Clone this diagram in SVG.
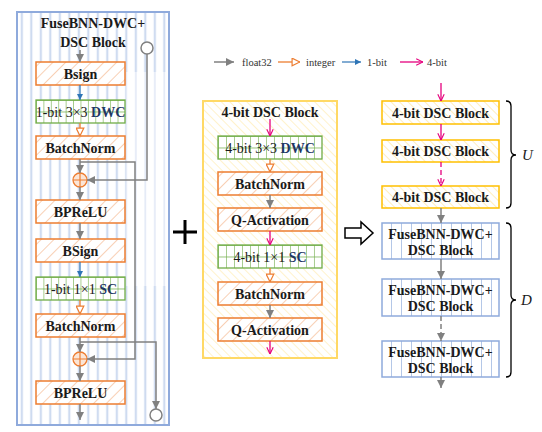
<svg xmlns="http://www.w3.org/2000/svg" width="542" height="432" viewBox="0 0 542 432">
<style>
.t{font-family:"Liberation Serif","Times New Roman",serif;font-size:14px;font-weight:bold;fill:#1a1a1a;text-anchor:middle}
.tr{font-weight:normal}
.db{fill:#1f3864;font-weight:bold}
.lg{font-family:"Liberation Serif","Times New Roman",serif;font-size:10.5px;fill:#333}
.it{font-family:"Liberation Serif","Times New Roman",serif;font-size:15px;font-style:italic;fill:#1a1a1a}
.ob{fill:url(#hOr);stroke:#ed7d31;stroke-width:1.5}
.gb{fill:url(#grid);stroke:#70ad47;stroke-width:1.3}
.gb2{fill:url(#grid2);stroke:#70ad47;stroke-width:1.3}
.yb{fill:url(#hYe);stroke:#ffc000;stroke-width:1.5}
.bb{fill:url(#vs2);stroke:#8faadc;stroke-width:1.5}
.g{stroke:#808080;stroke-width:1.5;fill:none}
.gA{stroke:#808080;stroke-width:1.5;fill:none;marker-end:url(#ag)}
.bA{stroke:#2e75b6;stroke-width:1.2;fill:none;marker-end:url(#ab)}
.oA{stroke:#ed7d31;stroke-width:1.3;fill:none;marker-end:url(#ao)}
.mA{stroke:#e5007d;stroke-width:1.3;fill:none;marker-end:url(#am)}
</style>
<defs>
<marker id="ag" viewBox="0 0 10 10" refX="10" refY="5" markerWidth="8" markerHeight="8" markerUnits="userSpaceOnUse" orient="auto"><path d="M0,0 L10,5 L0,10 z" fill="#808080"/></marker>
<marker id="ab" viewBox="0 0 10 10" refX="10" refY="5" markerWidth="6" markerHeight="6" markerUnits="userSpaceOnUse" orient="auto"><path d="M0,0 L10,5 L0,10 z" fill="#2e75b6"/></marker>
<marker id="ao" viewBox="0 0 10 10" refX="9.5" refY="5" markerWidth="9" markerHeight="9" markerUnits="userSpaceOnUse" orient="auto"><path d="M0.7,0.7 L9.3,5 L0.7,9.3 z" fill="#fff" stroke="#ed7d31" stroke-width="1.3"/></marker>
<marker id="am" viewBox="0 0 10 10" refX="9.5" refY="5" markerWidth="8" markerHeight="8" markerUnits="userSpaceOnUse" orient="auto"><path d="M1,1 L9.5,5 L1,9" fill="none" stroke="#e5007d" stroke-width="1.4"/></marker>
<pattern id="hOr" patternUnits="userSpaceOnUse" width="9" height="9" patternTransform="rotate(45)"><rect width="9" height="9" fill="#fff"/><line x1="0" y1="0" x2="0" y2="9" stroke="#f4b183" stroke-width="1.2"/></pattern>
<pattern id="hYe" patternUnits="userSpaceOnUse" width="6" height="6" patternTransform="rotate(-45)"><rect width="6" height="6" fill="#fff"/><line x1="0" y1="0" x2="0" y2="6" stroke="#ffe699" stroke-width="1.3"/></pattern>
<pattern id="hYe2" patternUnits="userSpaceOnUse" width="6" height="6" patternTransform="rotate(-45)"><rect width="6" height="6" fill="#fff"/><line x1="0" y1="0" x2="0" y2="6" stroke="#ffeaa8" stroke-width="1.2"/></pattern>
<pattern id="grid" patternUnits="objectBoundingBox" width="0.0833" height="0.5"><rect width="20" height="20" fill="#fff"/><path d="M0,0 V20 M0,0 H20" stroke="#70ad47" stroke-width="1.2" fill="none"/></pattern>
<pattern id="grid2" patternUnits="objectBoundingBox" width="0.0769" height="0.5"><rect width="20" height="20" fill="#fff"/><path d="M0,0 V20 M0,0 H20" stroke="#70ad47" stroke-width="1.2" fill="none"/></pattern>
<pattern id="vs" patternUnits="userSpaceOnUse" x="17" y="0" width="9.5" height="10"><rect width="9.5" height="10" fill="#fff"/><rect x="3.6" y="0" width="2.4" height="10" fill="#e1e9f7"/><line x1="4.8" y1="0" x2="4.8" y2="10" stroke="#b4c7e7" stroke-width="0.8"/></pattern>
<pattern id="vsT" patternUnits="userSpaceOnUse" x="17" y="0" width="9.5" height="10"><rect width="9.5" height="10" fill="#fff"/><line x1="4.8" y1="0" x2="4.8" y2="10" stroke="#c9d6ef" stroke-width="0.9"/></pattern>
<pattern id="vs2" patternUnits="userSpaceOnUse" x="382" y="0" width="10" height="10"><rect width="10" height="10" fill="#fff"/><line x1="9.5" y1="0" x2="9.5" y2="10" stroke="#b4c7e7" stroke-width="1"/></pattern>
</defs>

<rect width="542" height="432" fill="#fff"/>

<!-- Left panel -->
<g id="left-panel">
<rect x="17" y="12" width="152" height="413" fill="url(#vs)" stroke="#8faadc" stroke-width="2"/>
<rect x="126" y="72" width="40" height="214" fill="url(#vsT)"/>
<text class="t" x="93" y="28">FuseBNN-DWC+</text>
<text class="t" x="93" y="47">DSC Block</text>
</g>
<g id="l-bsign1"><rect class="ob" x="36" y="62" width="89" height="23"/><text class="t" x="80.5" y="78.5">Bsign</text></g>
<g id="l-dwc"><rect class="gb" x="36" y="100" width="89" height="23"/><text class="t" x="80.5" y="116.5"><tspan class="tr">1-bit 3×3 </tspan><tspan class="db">DWC</tspan></text></g>
<g id="l-bn1"><rect class="ob" x="36" y="136" width="89" height="23"/><text class="t" x="80.5" y="152.5">BatchNorm</text></g>
<g id="l-add1"><circle cx="80" cy="180" r="7" fill="#fbe5d6" stroke="#ed7d31" stroke-width="1.3"/><path d="M73,180 H87 M80,173 V187" stroke="#ed7d31" stroke-width="1.2"/></g>
<g id="l-bprelu1"><rect class="ob" x="36" y="200" width="89" height="23"/><text class="t" x="80.5" y="216.5">BPReLU</text></g>
<g id="l-bsign2"><rect class="ob" x="36" y="239" width="89" height="23"/><text class="t" x="80.5" y="255.5">BSign</text></g>
<g id="l-sc"><rect class="gb" x="36" y="277" width="89" height="23"/><text class="t" x="80.5" y="293.5"><tspan class="tr">1-bit 1×1 </tspan><tspan class="db">SC</tspan></text></g>
<g id="l-bn2"><rect class="ob" x="36" y="314" width="89" height="23"/><text class="t" x="80.5" y="330.5">BatchNorm</text></g>
<g id="l-add2"><circle cx="80" cy="359" r="7" fill="#fbe5d6" stroke="#ed7d31" stroke-width="1.3"/><path d="M73,359 H87 M80,352 V366" stroke="#ed7d31" stroke-width="1.2"/></g>
<g id="l-bprelu2"><rect class="ob" x="36" y="381" width="89" height="23"/><text class="t" x="80.5" y="397.5">BPReLU</text></g>
<g id="l-in"><circle cx="147" cy="48" r="6" fill="#fff" stroke="#808080" stroke-width="1.5"/></g>
<g id="l-out"><circle cx="156" cy="415" r="6" fill="#fff" stroke="#808080" stroke-width="1.5"/></g>

<!-- Plus -->
<g id="plus"><path d="M173,232 H197 M185,220 V244" stroke="#000" stroke-width="3"/></g>

<!-- Middle panel -->
<g id="mid-panel">
<rect x="203" y="101" width="134" height="257" fill="url(#hYe2)" stroke="#ffd966" stroke-width="2"/>
<text class="t" x="270" y="117">4-bit DSC Block</text>
</g>
<g id="m-dwc"><rect class="gb2" x="218" y="136" width="104" height="23"/><text class="t" x="270" y="152.5"><tspan class="tr">4-bit 3×3 </tspan><tspan class="db">DWC</tspan></text></g>
<g id="m-bn1"><rect class="ob" x="218" y="172" width="104" height="23"/><text class="t" x="270" y="188.5">BatchNorm</text></g>
<g id="m-qa1"><rect class="ob" x="218" y="208" width="104" height="23"/><text class="t" x="270" y="224.5">Q-Activation</text></g>
<g id="m-sc"><rect class="gb2" x="218" y="245" width="104" height="23"/><text class="t" x="270" y="261.5"><tspan class="tr">4-bit 1×1 </tspan><tspan class="db">SC</tspan></text></g>
<g id="m-bn2"><rect class="ob" x="218" y="282" width="104" height="23"/><text class="t" x="270" y="298.5">BatchNorm</text></g>
<g id="m-qa2"><rect class="ob" x="218" y="318" width="104" height="23"/><text class="t" x="270" y="334.5">Q-Activation</text></g>

<!-- Legend -->
<g id="legend">
<line class="gA" x1="214" y1="62" x2="234" y2="62"/><text class="lg" x="242" y="66">float32</text>
<line class="oA" x1="278" y1="62" x2="300" y2="62"/><text class="lg" x="306" y="66">integer</text>
<line class="bA" x1="342" y1="62" x2="361" y2="62"/><text class="lg" x="367" y="66">1-bit</text>
<line class="mA" x1="400" y1="62" x2="423" y2="62"/><text class="lg" x="427" y="66">4-bit</text>
</g>

<!-- Big arrow -->
<g id="big-arrow"><polygon points="345,228 361,228 361,222 373,233 361,244 361,238 345,238" fill="#fff" stroke="#000" stroke-width="1.5" stroke-linejoin="miter"/></g>

<!-- Right panel -->
<g id="r-dsc1"><rect class="yb" x="382" y="101" width="117" height="23"/><text class="t" x="440.5" y="117.5">4-bit DSC Block</text></g>
<g id="r-dsc2"><rect class="yb" x="382" y="140" width="117" height="22"/><text class="t" x="440.5" y="156">4-bit DSC Block</text></g>
<g id="r-dsc3"><rect class="yb" x="382" y="186" width="117" height="22"/><text class="t" x="440.5" y="202">4-bit DSC Block</text></g>
<g id="r-fb1"><rect class="bb" x="382" y="223" width="117" height="36"/><text class="t" x="440.5" y="239">FuseBNN-DWC+</text><text class="t" x="440.5" y="255">DSC Block</text></g>
<g id="r-fb2"><rect class="bb" x="382" y="279" width="117" height="37"/><text class="t" x="440.5" y="295">FuseBNN-DWC+</text><text class="t" x="440.5" y="311">DSC Block</text></g>
<g id="r-fb3"><rect class="bb" x="382" y="341" width="117" height="36"/><text class="t" x="440.5" y="357">FuseBNN-DWC+</text><text class="t" x="440.5" y="373">DSC Block</text></g>
<g id="brace-u"><path d="M506,101 Q511,101 511,106 L511,150 Q511,155 516,155 Q511,155 511,160 L511,203 Q511,208 506,208" fill="none" stroke="#000" stroke-width="1.3"/><text class="it" x="522" y="160">U</text></g>
<g id="brace-d"><path d="M506,223 Q511,223 511,228 L511,295 Q511,300 516,300 Q511,300 511,305 L511,372 Q511,377 506,377" fill="none" stroke="#000" stroke-width="1.3"/><text class="it" x="521" y="305">D</text></g>

<!-- Connectors -->
<g id="connectors">
<line class="gA" x1="80" y1="50" x2="80" y2="62"/>
<line class="bA" x1="80" y1="85" x2="80" y2="100"/>
<line class="oA" x1="80" y1="123" x2="80" y2="136"/>
<line class="gA" x1="80" y1="159" x2="80" y2="173"/>
<line class="gA" x1="80" y1="187" x2="80" y2="200"/>
<line class="gA" x1="80" y1="223" x2="80" y2="239"/>
<line class="bA" x1="80" y1="262" x2="80" y2="277"/>
<line class="oA" x1="80" y1="300" x2="80" y2="314"/>
<line class="gA" x1="80" y1="337" x2="80" y2="352"/>
<line class="gA" x1="80" y1="366" x2="80" y2="381"/>
<line class="gA" x1="80" y1="404" x2="80" y2="420"/>
<polyline class="gA" points="147,54 147,180 87,180"/>
<polyline class="gA" points="80,162 135,162 135,359 87,359"/>
<polyline class="gA" points="80,342 156,342 156,409"/>

<line class="mA" x1="270" y1="119" x2="270" y2="136"/>
<line class="oA" x1="270" y1="159" x2="270" y2="172"/>
<line class="gA" x1="270" y1="195" x2="270" y2="208"/>
<line class="mA" x1="270" y1="231" x2="270" y2="245"/>
<line class="oA" x1="270" y1="268" x2="270" y2="282"/>
<line class="gA" x1="270" y1="305" x2="270" y2="318"/>
<line class="mA" x1="270" y1="341" x2="270" y2="354"/>

<line class="mA" x1="441" y1="83" x2="441" y2="101"/>
<line class="mA" x1="441" y1="124" x2="441" y2="140"/>
<line class="mA" x1="441" y1="162" x2="441" y2="186" stroke-dasharray="5,3"/>
<line class="gA" x1="441" y1="208" x2="441" y2="223"/>
<line class="gA" x1="441" y1="259" x2="441" y2="279"/>
<line class="gA" x1="441" y1="316" x2="441" y2="341" stroke-dasharray="5,3"/>
<line class="gA" x1="441" y1="377" x2="441" y2="388"/>
</g>
</svg>
